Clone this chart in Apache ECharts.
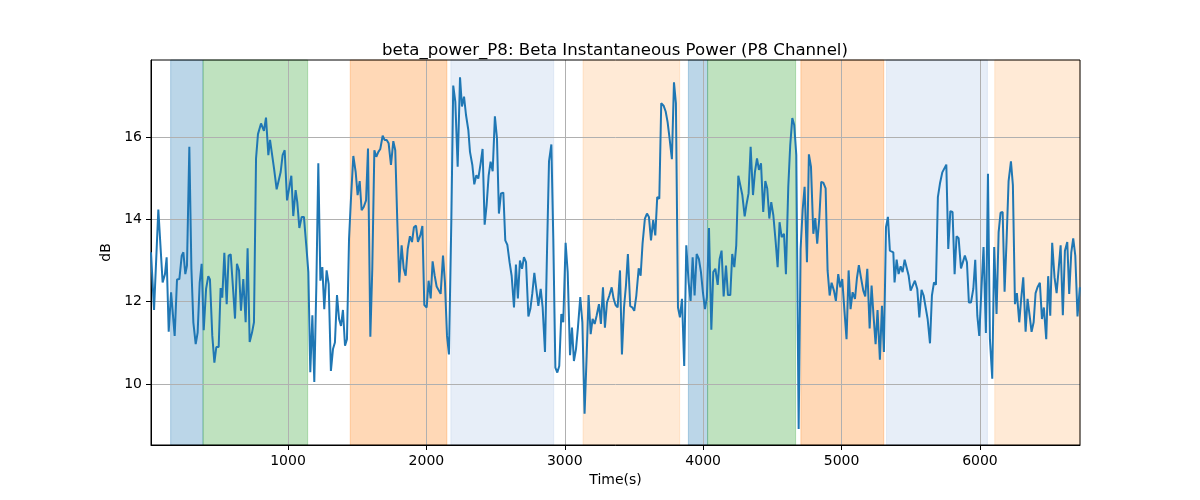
<!DOCTYPE html>
<html>
<head>
<meta charset="utf-8">
<script src="https://cdn.jsdelivr.net/npm/echarts@6/dist/echarts.min.js"></script>
<style>html,body{margin:0;padding:0;background:#fff}#c{width:1200px;height:500px}</style>
</head>
<body>
<div id="c"></div>
<script>
// ---- data ----
const times = [10,32,63,94,111,123,138,155,181,198,215,232,244,258,270,287,302,316,333,347,362,376,391,408,424,436,453,468,482,499,513,525,540,557,571,586,603,617,631,646,660,677,694,708,723,740,754,769,783,805,817,826,841,858,870,884,899,918,932,947,961,976,993,1007,1024,1038,1055,1067,1082,1099,1115,1132,1147,1161,1176,1190,1205,1219,1234,1248,1262,1279,1294,1310,1325,1339,
1354,1369,1383,1397,1412,1426,1441,1455,1472,1489,1503,1518,1532,1547,1564,1578,1595,1609,1624,1638,1653,1667,1684,1698,1713,1727,1744,1761,1775,1790,1804,1821,1836,1850,1865,1881,1896,1910,1925,1939,1956,1971,1985,2002,2016,2031,2045,2060,2074,2088,2103,2120,2134,2149,2163,2180,2194,2209,2226,2243,2257,2272,2286,2303,2315,2332,2346,2361,2375,2392,2406,2421,2435,2450,2464,2479,2495,2510,2524,2539,2556,2570,2585,2601,2616,2633,2647,2661,
2676,2691,2705,2720,2737,2751,2765,2780,2794,2809,2826,2840,2857,2871,2886,2903,2917,2932,2946,2960,2975,2989,3006,3021,3038,3052,3066,3081,3095,3112,3127,3143,3158,3172,3187,3201,3216,3230,3247,3261,3276,3290,3305,3322,3339,3353,3367,3382,3399,3413,3428,3442,3456,3473,3488,3502,3517,3534,3548,3562,3579,3594,3608,3623,3639,3654,3668,3683,3697,3714,3729,3743,3757,3774,3789,3803,3818,3832,3847,3863,3878,3895,3909,3924,3938,3953,3969,3984,3998,
4013,4027,4042,4059,4073,4088,4105,4119,4133,4148,4165,4179,4196,4210,4225,4239,4254,4268,4283,4300,4314,4328,4343,4360,4374,4389,4403,4418,4434,4449,4463,4478,4492,4507,4524,4538,4552,4567,4584,4598,4615,4629,4644,4658,4673,4690,4704,4719,4733,4750,4764,4779,4796,4810,4824,4839,4853,4868,4885,4899,4914,4928,4945,4959,4976,4991,5005,5020,5036,5051,5065,5080,5097,5111,5125,5140,5157,5171,5186,5203,5217,5231,5246,5260,5277,5292,5306,5321,5335,
5349,5374,5383,5398,5412,5427,5441,5456,5470,5485,5499,5513,5530,5547,5562,5578,5593,5607,5622,5639,5653,5668,5682,5696,5711,5728,5742,5757,5771,5786,5802,5817,5831,5846,5863,5877,5891,5906,5920,5935,5952,5966,5981,5995,6012,6026,6043,6058,6072,6089,6103,6120,6135,6149,6164,6178,6192,6207,6224,6238,6253,6267,6284,6298,6313,6330,6344,6359,6373,6388,6402,6416,6433,6448,6462,6479,6493,6508,6522,6539,6554,6568,6583,6599,6614,6631,6645,6660,6674,6689,6705,6722];

const db = [13.2,11.8,14.24,12.47,12.67,13.08,11.27,12.23,11.17,12.54,12.55,13.12,13.2,12.67,12.88,15.76,12.8,11.5,10.97,11.25,12.47,12.92,11.31,12.31,12.62,12.54,11.17,10.52,10.9,10.9,12.33,12.1,13.19,11.94,13.12,13.15,12.31,11.59,12.92,12.76,11.78,12.55,11.5,13.3,11.02,11.25,11.5,15.48,16.07,16.33,16.31,16.15,16.47,15.56,15.93,15.95,15.24,14.73,14.73,15.15,15.56,15.68,14.46,14.42,15.06,14.08,14.71,14.42,13.79,14.06,14.06,13.37,12.72,10.29,11.67,10.05,12.43,15.36,12.51,12.84,11.82,12.76,12.43,10.32,10.85,11.01,
12.16,11.58,11.41,11.8,10.93,11.09,13.53,14.5,15.54,15.15,14.59,14.93,14.22,14.3,14.46,15.72,11.15,12.8,15.68,15.52,15.64,15.71,16.03,15.93,15.93,15.85,15.32,15.9,15.68,13.93,12.47,13.37,12.8,12.63,13.28,13.59,13.45,13.81,13.85,13.45,13.61,13.84,11.92,11.86,12.51,12.08,12.98,12.63,12.37,12.37,12.19,13.12,12.47,11.17,10.72,13.93,17.25,16.86,15.28,17.45,16.74,16.98,16.54,16.17,15.64,15.32,14.85,15.07,14.99,15.36,15.71,13.87,14.34,15.07,15.4,15.17,16.5,15.97,14.14,14.63,14.65,13.49,13.38,12.96,12.63,11.86,12.9,12.08,
13.0,12.8,13.08,12.96,11.64,11.82,12.19,12.7,12.31,11.9,12.31,11.86,10.78,13.12,15.41,15.82,13.53,10.4,10.28,10.44,11.7,11.5,13.43,12.72,10.7,11.37,10.56,10.85,11.37,12.11,11.5,9.28,10.68,12.16,11.21,11.58,11.46,11.66,11.94,11.46,12.35,11.37,11.98,12.15,12.35,12.07,11.92,11.86,12.76,10.72,11.86,12.39,13.16,11.89,11.86,11.78,12.15,12.81,12.63,13.41,14.02,14.14,14.06,13.49,13.98,13.61,14.54,14.5,16.82,16.76,16.62,16.36,15.97,15.46,17.33,16.82,11.86,11.62,12.07,10.44,13.37,12.47,12.02,13.08,12.15,13.16,13.04,12.72,12.23,
11.82,12.11,13.79,11.32,12.72,12.8,12.41,13.04,13.24,12.13,12.88,12.16,12.16,13.16,12.84,13.37,15.06,15.06,14.59,14.07,14.38,14.63,15.76,14.59,15.15,15.48,15.2,15.36,14.18,14.93,14.75,14.02,14.42,14.1,13.45,12.84,13.93,13.57,13.65,12.67,14.79,15.8,16.46,16.29,15.56,8.91,13.28,14.24,14.79,12.96,15.58,15.28,13.65,14.03,13.41,14.02,14.91,14.89,14.75,12.76,12.15,12.46,12.27,12.02,12.67,12.35,12.55,11.82,11.09,12.76,11.82,12.23,12.07,12.57,12.89,12.59,12.27,12.13,12.8,11.35,12.39,11.66,10.97,11.8,10.59,11.9,10.78,13.81,14.06,
13.24,13.2,12.47,13.02,12.67,12.86,12.72,13.02,12.98,12.63,12.27,12.27,12.51,12.31,11.62,12.29,12.15,12.15,11.58,10.99,12.15,12.47,12.41,14.54,14.87,15.14,15.11,15.33,13.28,14.2,14.18,12.67,13.59,13.54,12.81,12.81,13.12,12.96,11.98,11.98,12.31,13.02,11.66,11.17,12.39,13.33,11.24,15.11,11.09,10.13,13.33,11.7,13.69,14.16,14.18,12.24,13.45,14.93,15.41,14.83,11.94,12.21,11.5,12.07,12.59,11.27,12.07,11.66,11.27,11.5,12.21,12.35,12.46,11.58,11.86,11.09,12.62,11.66,13.43,12.59,12.21,12.23,13.37,11.67,13.24,13.45,12.19,13.2,13.54,13.12,11.64,12.35];

const bandStarts = [152, 386, 1450, 2177, 3132, 3893, 4032, 4706, 5325, 6107];
const bandEnds   = [386, 1142, 2148, 2920, 3830, 4032, 4668, 5305, 6054, 6723];
const bandKinds  = ['blue', 'green', 'orange', 'lightblue', 'lightorange', 'blue', 'green', 'orange', 'lightblue', 'lightorange'];

const xTicks = [1000, 2000, 3000, 4000, 5000, 6000];
const yTicks = [10, 12, 14, 16];
const xRange = [10, 6723];
const yRange = [8.52, 17.87];

// ---- styles ----
const kindColor = {
  blue: 'rgba(31,119,180,0.3)',
  green: 'rgba(44,160,44,0.3)',
  orange: 'rgba(255,127,14,0.3)',
  lightblue: 'rgba(174,199,232,0.3)',
  lightorange: 'rgba(255,187,120,0.3)'
};
const FONT = 'DejaVu Sans';

const lineData = times.map((t, i) => [t, db[i]]);
const areas = bandStarts.map((s, i) => [
  { xAxis: s, itemStyle: { color: kindColor[bandKinds[i]], borderColor: kindColor[bandKinds[i]], borderWidth: 1 } },
  { xAxis: bandEnds[i] }
]);

const chart = echarts.init(document.getElementById('c'), null, { renderer: 'canvas' });
chart.setOption({
  animation: false,
  backgroundColor: '#fff',
  title: {
    text: 'beta_power_P8: Beta Instantaneous Power (P8 Channel)',
    left: 610, top: 37, textAlign: 'center',
    textStyle: { fontFamily: FONT, fontSize: 16.6, fontWeight: 'normal', color: '#000' }
  },
  grid: { left: 151, right: 120, top: 60, bottom: 55, show: true, borderColor: '#000', borderWidth: 1, backgroundColor: 'transparent', z: 4 },
  xAxis: {
    type: 'value', min: xRange[0], max: xRange[1], z: 3,
    name: 'Time(s)', nameLocation: 'middle', nameGap: 28,
    nameTextStyle: { fontFamily: FONT, fontSize: 14, color: '#000' },
    axisLine: { show: true, lineStyle: { color: '#000', width: 1 } },
    axisTick: { show: true, length: 5, customValues: xTicks, lineStyle: { color: '#000' } },
    axisLabel: { customValues: xTicks, margin: 9, fontFamily: FONT, fontSize: 14, color: '#000', formatter: v => String(v) },
    splitLine: { show: true, lineStyle: { color: '#b0b0b0', width: 1 } }
  },
  yAxis: {
    type: 'value', min: yRange[0], max: yRange[1], z: 3,
    name: 'dB', nameLocation: 'middle', nameGap: 34, nameRotate: 90,
    nameTextStyle: { fontFamily: FONT, fontSize: 14, color: '#000' },
    axisLine: { show: true, lineStyle: { color: '#000', width: 1 } },
    axisTick: { show: true, length: 5, customValues: yTicks, lineStyle: { color: '#000' } },
    axisLabel: { customValues: yTicks, margin: 9, fontFamily: FONT, fontSize: 14, color: '#000', formatter: v => String(v) },
    splitLine: { show: true, lineStyle: { color: '#b0b0b0', width: 1 } }
  },
  series: [
    {
      type: 'line', data: [], z: 1, silent: true,
      markArea: { silent: true, data: areas }
    },
    {
      type: 'line', data: lineData, z: 5, showSymbol: false, symbol: 'none',
      lineStyle: { color: '#1f77b4', width: 2 }, itemStyle: { color: '#1f77b4' }
    }
  ]
});
</script>
</body>
</html>
